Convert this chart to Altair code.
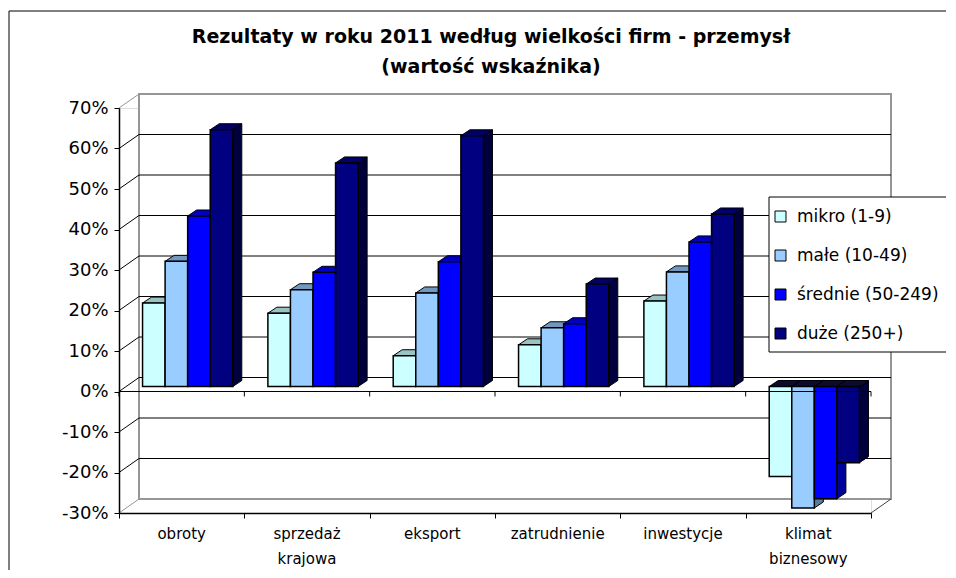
import altair as alt
import pandas as pd

# ---------------- data ----------------
categories = ["obroty", "sprzedaż\nkrajowa", "eksport", "zatrudnienie", "inwestycje", "klimat\nbiznesowy"]
series = ["mikro (1-9)", "małe (10-49)", "średnie (50-249)", "duże (250+)"]
mikro = [20.6, 18.1, 7.6, 10.3, 21.1, -22.2]
male = [30.9, 23.9, 23.1, 14.5, 28.3, -30.0]
srednie = [42.1, 28.2, 30.8, 15.5, 35.7, -27.7]
duze = [63.4, 55.2, 61.9, 25.3, 42.6, -18.8]
y_ticks = [-30, -20, -10, 0, 10, 20, 30, 40, 50, 60, 70]
title_lines = ["Rezultaty w roku 2011 według wielkości firm - przemysł", "(wartość wskaźnika)"]

front_colors = ["#CCFFFF", "#99CCFF", "#0000FF", "#000080"]
top_colors = ["#99C2C2", "#7398BF", "#0000C0", "#000066"]
side_colors = ["#7A9C9C", "#5C7A99", "#00009A", "#00003D"]
neg_top_color = "#0A0A33"

values = [mikro, male, srednie, duze]

# ---------------- geometry (plot area 752 x 405 px) ----------------
W, H = 752, 405
PX_X = W / 6.0
PX_Y = H / 100.0
DEPTH_DX = 20 / PX_X
DEPTH_DY = 14 / PX_Y
BAR_SHIFT_X = 6 / PX_X
BAR_BASE = 5 / PX_Y
BAR_W = 0.18
BAR_DX = 9 / PX_X
BAR_DY = 6 / PX_Y

FONT = "DejaVu Sans"

xs = alt.Scale(domain=[0, 6], nice=False, zero=False)
ys = alt.Scale(domain=[-30, 70], nice=False, zero=False)

# ---------------- tables ----------------
fronts, tops, sides = [], [], []
for c in range(len(categories)):
    for s in range(len(series)):
        v = values[s][c]
        x0 = c + 0.5 + BAR_SHIFT_X - 2 * BAR_W + s * BAR_W
        x1 = x0 + BAR_W
        top = BAR_BASE + max(v, 0)
        bot = BAR_BASE + min(v, 0)
        bid = f"{c}-{s}"
        fronts.append(dict(series=series[s], x=x0, x2=x1, y=bot, y2=top))
        tc = top_colors[s] if v >= 0 else neg_top_color
        tops.append(dict(id=bid, y=top, x=x0, x2=x1, fill=tc))
        tops.append(dict(id=bid, y=top + BAR_DY, x=x0 + BAR_DX, x2=x1 + BAR_DX, fill=tc))
        sides.append(dict(id=bid, x=x1, y=bot, y2=top, fill=side_colors[s]))
        sides.append(dict(id=bid, x=x1 + BAR_DX, y=bot + BAR_DY, y2=top + BAR_DY, fill=side_colors[s]))

front_df = pd.DataFrame(fronts)
top_df = pd.DataFrame(tops)
side_df = pd.DataFrame(sides)

wall_df = pd.DataFrame([dict(x=DEPTH_DX, x2=6 + DEPTH_DX, y=-30 + DEPTH_DY, y2=70 + DEPTH_DY)])
grid_df = pd.DataFrame([dict(x=DEPTH_DX, x2=6 + DEPTH_DX, y=v + DEPTH_DY) for v in y_ticks[1:-1]])
diag_rows = []
for v in y_ticks:
    col = "#969696" if v in (y_ticks[0], y_ticks[-1]) else "black"
    diag_rows.append(dict(x=0, x2=DEPTH_DX, y=v, y2=v + DEPTH_DY, col=col))
diag_rows.append(dict(x=6, x2=6 + DEPTH_DX, y=-30, y2=-30 + DEPTH_DY, col="#404040"))
diag_df = pd.DataFrame(diag_rows)

zero_df = pd.DataFrame([dict(x=0, x2=6, y=0)])
tick_df = pd.DataFrame([dict(x=k, y=0, y2=-5 / PX_Y) for k in range(7)])
cat_df = pd.DataFrame([dict(x=i + 0.5, label=c) for i, c in enumerate(categories)])

x_axis = alt.Axis(values=list(range(7)), labels=False, tickSize=5, tickColor="black",
                  domainColor="black", domainWidth=1.5, grid=False, title=None, zindex=1)
y_axis = alt.Axis(values=y_ticks, labelExpr="datum.value + '%'", tickSize=5, tickColor="black",
                  domainColor="black", domainWidth=1.5, grid=False, title=None,
                  labelFont=FONT, labelFontSize=18, labelColor="black", labelPadding=6, zindex=1)


def X(field, **kw):
    return alt.X(field, scale=xs, axis=x_axis, **kw)


def Y(field, **kw):
    return alt.Y(field, scale=ys, axis=y_axis, **kw)


wall = alt.Chart(wall_df).mark_rect(fill="white", stroke="#969696", strokeWidth=2).encode(
    x=X("x:Q"), x2="x2:Q", y=Y("y:Q"), y2="y2:Q")

grid = alt.Chart(grid_df).mark_rule(color="black", strokeWidth=1).encode(
    x=X("x:Q"), x2="x2:Q", y=Y("y:Q"))

diag = alt.Chart(diag_df).mark_rule(strokeWidth=1).encode(
    x=X("x:Q"), x2="x2:Q", y=Y("y:Q"), y2="y2:Q",
    color=alt.Color("col:N", scale=None))

side_layer = alt.Chart(side_df).mark_area(orient="vertical", stroke="black", strokeWidth=1,
                                          interpolate="linear").encode(
    x=X("x:Q"), y=Y("y:Q", stack=None), y2="y2:Q",
    detail="id:N", fill=alt.Fill("fill:N", scale=None))

top_layer = alt.Chart(top_df).mark_area(orient="horizontal", stroke="black", strokeWidth=1,
                                        interpolate="linear").encode(
    y=Y("y:Q"), x=X("x:Q", stack=None), x2="x2:Q",
    detail="id:N", fill=alt.Fill("fill:N", scale=None))

legend = alt.Legend(orient="none", legendX=653, legendY=100, title=None, symbolType="square",
                    symbolSize=121, symbolStrokeColor="black", symbolStrokeWidth=1,
                    labelFont=FONT, labelFontSize=17, labelColor="black", labelOffset=8,
                    rowPadding=21, padding=0, zindex=2)

front_layer = alt.Chart(front_df).mark_rect(stroke="black", strokeWidth=1.5).encode(
    x=X("x:Q"), x2="x2:Q", y=Y("y:Q"), y2="y2:Q",
    color=alt.Color("series:N", scale=alt.Scale(domain=series, range=front_colors), legend=legend))

zero_line = alt.Chart(zero_df).mark_rule(color="black", strokeWidth=1).encode(
    x=X("x:Q"), x2="x2:Q", y=Y("y:Q"))

zero_ticks = alt.Chart(tick_df).mark_rule(color="black", strokeWidth=1).encode(
    x=X("x:Q"), y=Y("y:Q"), y2="y2:Q")

cat_labels = alt.Chart(cat_df).mark_text(font=FONT, fontSize=15, color="black", baseline="top",
                                         align="center", lineBreak="\n", lineHeight=25).encode(
    x=X("x:Q"), y=alt.value(419), text="label:N")

legend_box = alt.Chart(pd.DataFrame([{"a": 1}])).mark_rect(fill="white", stroke="black", strokeWidth=1).encode(
    x=alt.value(650), x2=alt.value(900), y=alt.value(89), y2=alt.value(244))

title_df = pd.DataFrame([dict(t=title_lines[0], yy=-71), dict(t=title_lines[1], yy=-41)])
title = alt.Chart(title_df).mark_text(font=FONT, fontSize=19, fontWeight="bold", color="black",
                                      align="center", baseline="middle").encode(
    x=alt.value(372), y=alt.Y("yy:Q", scale=None), text="t:N")

border_v = alt.Chart(pd.DataFrame([{"a": 1}])).mark_rule(color="black", strokeWidth=1).encode(
    x=alt.value(-110), y=alt.value(-97), y2=alt.value(600))
border_h = alt.Chart(pd.DataFrame([{"a": 1}])).mark_rule(color="black", strokeWidth=1).encode(
    x=alt.value(-110), x2=alt.value(900), y=alt.value(-97))

chart = alt.layer(
    wall, grid, diag, side_layer, top_layer, front_layer, zero_line, zero_ticks,
    legend_box, cat_labels, title, border_v, border_h
).properties(
    width=W, height=H, autosize="none",
    padding={"left": 111, "top": 100, "right": 75, "bottom": 57},
).configure_view(stroke=None).configure(background="white")

chart.save("out.html", embed_options={"renderer": "svg", "actions": False})
